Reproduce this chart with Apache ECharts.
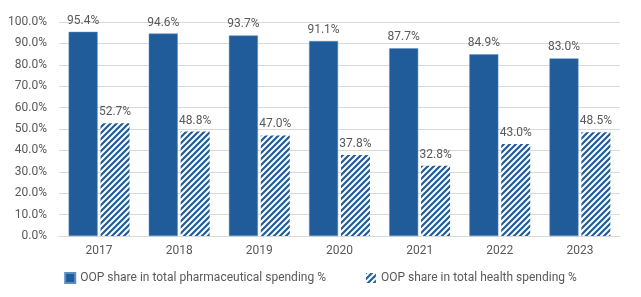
<!DOCTYPE html>
<html>
<head>
<meta charset="utf-8">
<script src="https://cdn.jsdelivr.net/npm/echarts@6/dist/echarts.min.js"></script>
<style>
  html, body { margin: 0; padding: 0; background: #fff; }
  #chart { width: 641px; height: 297px; }
</style>
</head>
<body>
<div id="chart"></div>
<script>
var years = ['2017', '2018', '2019', '2020', '2021', '2022', '2023']
var pharmaShare = [95.4, 94.6, 93.7, 91.1, 87.7, 84.9, 83.0]
var healthShare = [52.7, 48.8, 47.0, 37.8, 32.8, 43.0, 48.5]
var seriesNames = ['OOP share in total pharmaceutical spending %', 'OOP share in total health spending %']

var blue = '#1F5C99'

// diagonal stripe pattern for the second series
function makeHatch () {
  var c = document.createElement('canvas')
  c.width = 6
  c.height = 6
  var ctx = c.getContext('2d')
  ctx.fillStyle = '#fff'
  ctx.fillRect(0, 0, 6, 6)
  ctx.strokeStyle = blue
  ctx.lineWidth = 2.2
  ctx.beginPath()
  ctx.moveTo(-1, 7); ctx.lineTo(7, -1)
  ctx.moveTo(-4, 4); ctx.lineTo(4, -4)
  ctx.moveTo(2, 10); ctx.lineTo(10, 2)
  ctx.stroke()
  return c
}
var hatch = { image: makeHatch(), repeat: 'repeat' }

var txt = '#595959'
var font = 'Roboto, "Liberation Sans", sans-serif'

var myChart = echarts.init(document.getElementById('chart'))
myChart.setOption({
  animation: false,
  grid: { left: 59, right: 21, top: 22, bottom: 61 },
  legend: {
    bottom: 8,
    left: 'center',
    itemWidth: 10,
    itemHeight: 10,
    itemGap: 40,
    textStyle: { color: txt, fontSize: 12, fontFamily: font },
    data: [
      { name: seriesNames[0], icon: 'rect' },
      { name: seriesNames[1], icon: 'rect' }
    ]
  },
  xAxis: {
    type: 'category',
    data: years,
    axisTick: { show: false },
    axisLine: { lineStyle: { color: '#d9d9d9' } },
    axisLabel: { color: txt, fontSize: 12, fontFamily: font, margin: 9 }
  },
  yAxis: {
    type: 'value',
    min: 0,
    max: 100,
    interval: 10,
    axisLabel: {
      color: txt, fontSize: 12, fontFamily: font, margin: 12,
      formatter: function (v) { return v.toFixed(1) + '%' }
    },
    splitLine: { lineStyle: { color: '#d9d9d9' } }
  },
  series: [{
    name: seriesNames[0],
    type: 'bar',
    data: pharmaShare,
    barWidth: 29,
    barGap: '10%',
    itemStyle: { color: blue, borderColor: '#5b8fc4', borderWidth: 0.5 },
    label: {
      show: true, position: 'top', color: txt, fontSize: 12, fontFamily: font,
      formatter: function (p) { return p.value.toFixed(1) + '%' }
    }
  }, {
    name: seriesNames[1],
    type: 'bar',
    data: healthShare,
    barWidth: 29,
    itemStyle: { color: hatch },
    label: {
      show: true, position: 'top', color: txt, fontSize: 12, fontFamily: font,
      formatter: function (p) { return p.value.toFixed(1) + '%' }
    }
  }]
})
</script>
</body>
</html>
